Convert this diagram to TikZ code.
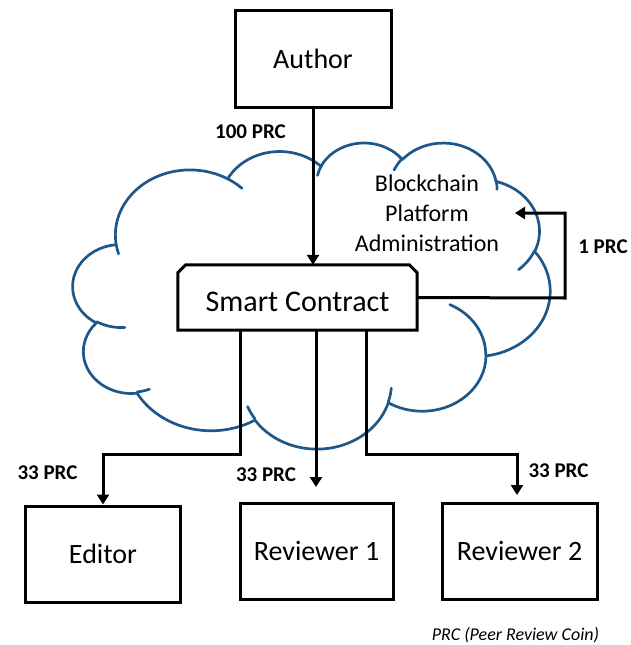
\documentclass[tikz,border=0pt]{standalone}
\usepackage{fontspec}
\setmainfont{Carlito}
\usetikzlibrary{arrows.meta}
\definecolor{cloudblue}{RGB}{30,88,138}
\tikzset{
  cloudline/.style={draw=cloudblue, line width=2.7pt, line join=round, line cap=round},
  carc/.style n args={4}{insert path={arc[x radius=#1, y radius=#2,
     start angle={atan2((#1)*sin(#3),(#2)*cos(#3))},
     delta angle={mod(atan2((#1)*sin((#3)+(#4)),(#2)*cos((#3)+(#4)))-atan2((#1)*sin(#3),(#2)*cos(#3))+720,360)}]}},
  boxnode/.style={draw, line width=3pt, minimum width=155pt, minimum height=96pt, inner sep=0pt,
     font=\fontsize{28}{32}\selectfont},
  conn/.style={line width=3pt},
  arr/.style={conn, -{Triangle[length=10pt,width=12pt]}},
  amount/.style={font=\fontsize{21}{24}\selectfont\bfseries, inner sep=0pt},
}
\begin{document}
\begin{tikzpicture}[x=1pt,y=-1pt]
\useasboundingbox (0,0) rectangle (630,645);
% cloud
\begin{scope}[shift={(73,142)}, x=1.10417pt, y=-0.708333pt]
\draw[cloudline] (39.00,143.70) [carc={67.53}{91.90}{-190.4875}{123.7805}]
  [carc={53.33}{72.67}{-144.1024}{89.9452}]
  [carc={43.65}{59.45}{-145.8079}{99.7230}]
  [carc={48.57}{65.95}{-130.9861}{117.2417}]
  [carc={53.33}{72.73}{-78.7089}{109.0269}]
  [carc={67.75}{92.20}{-46.2673}{130.2690}]
  [carc={57.85}{78.67}{0.6250}{114.0333}]
  [carc={67.52}{92.15}{22.4516}{115.1726}]
  [carc={77.20}{105.43}{66.2426}{75.7110}]
  [carc={43.60}{59.18}{-274.9421}{146.7356}]
  [carc={43.45}{59.45}{-246.8285}{152.5189}] -- cycle;
\draw[cloudline]
  (46.93,261.77) [carc={43.45}{59.45}{86.742}{26.4295}]
  (69.28,348.99) [carc={43.60}{59.18}{73.6105}{11.4475}]
  (164.78,390.90) [carc={67.52}{92.15}{137.6242}{14.0811}]
  (288.27,347.51) [carc={67.52}{92.15}{6.4533}{15.9984}]
  (341.29,229.54) [carc={57.85}{78.67}{-70.2924}{70.9174}]
  (417.98,153.54) [carc={53.33}{72.73}{30.3180}{27.7515}]
  (383.24,54.26) [carc={48.57}{65.95}{-13.7443}{14.8589}]
  (290.78,39.52) [carc={48.57}{65.95}{-149.1815}{18.1954}]
  (221.41,47.20) [carc={43.65}{59.45}{-163.4943}{17.6864}]
  (140.00,51.92) [carc={67.53}{91.90}{-66.7070}{12.3194}]
  (41.27,157.89) [carc={67.53}{91.90}{157.6544}{11.8582}];
\end{scope}

% nodes
\node[boxnode, minimum width=156pt, minimum height=97pt] (author) at (313,58.5) {Author};
\node[boxnode] (editor) at (103,554) {Editor};
\node[boxnode, minimum width=153pt] (rev1) at (316.5,551) {Reviewer 1};
\node[boxnode] (rev2) at (519.5,551) {Reviewer 2};
\node[minimum width=239pt, minimum height=65pt, inner sep=0pt, font=\fontsize{30}{34}\selectfont]
  (sc) at (297.5,297.5) {};
\draw[line width=3pt, line join=miter, fill=white]
  (sc.south west) -- ([yshift=-8pt]sc.north west) -- ([xshift=8pt]sc.north west)
  -- ([xshift=-8pt]sc.north east) -- ([yshift=-8pt]sc.north east) -- (sc.south east) -- cycle;
\node[font=\fontsize{30}{34}\selectfont] at (sc) {\raisebox{-4pt}[\height][\depth]{Smart Contract}};

\node[align=center, font=\fontsize{24}{30}\selectfont, inner sep=0pt] (bpa) at (427,213)
  {Blockchain\\Platform\\Administration};

% labels
\node[amount] (l100) at (250.5,132) {100 PRC};
\node[amount] (l1) at (603,247) {1 PRC};
\node[amount] (l33a) at (47.5,473) {33 PRC};
\node[amount] (l33b) at (266,475) {33 PRC};
\node[amount] (l33c) at (558.5,471) {33 PRC};
\node[font=\fontsize{18}{22}\selectfont\itshape, inner sep=0pt] (legend) at (515.5,635) {PRC (Peer Review Coin)};

% connector end points
\coordinate (bpain) at (515,213);
\coordinate (r1in) at (316,487);
\coordinate (r2in) at (517,495);

% connectors
\draw[arr] (author.south) -- (author.south |- sc.north);
\draw[arr] (sc.east) -- (565,298) |- (bpain);
\draw[arr] (240,330) -- (240,454) -| (editor.north);
\draw[arr] (r1in |- sc.south) -- (r1in);
\draw[arr] (366,330) -- (366,454) -| (r2in);
\end{tikzpicture}
\end{document}
